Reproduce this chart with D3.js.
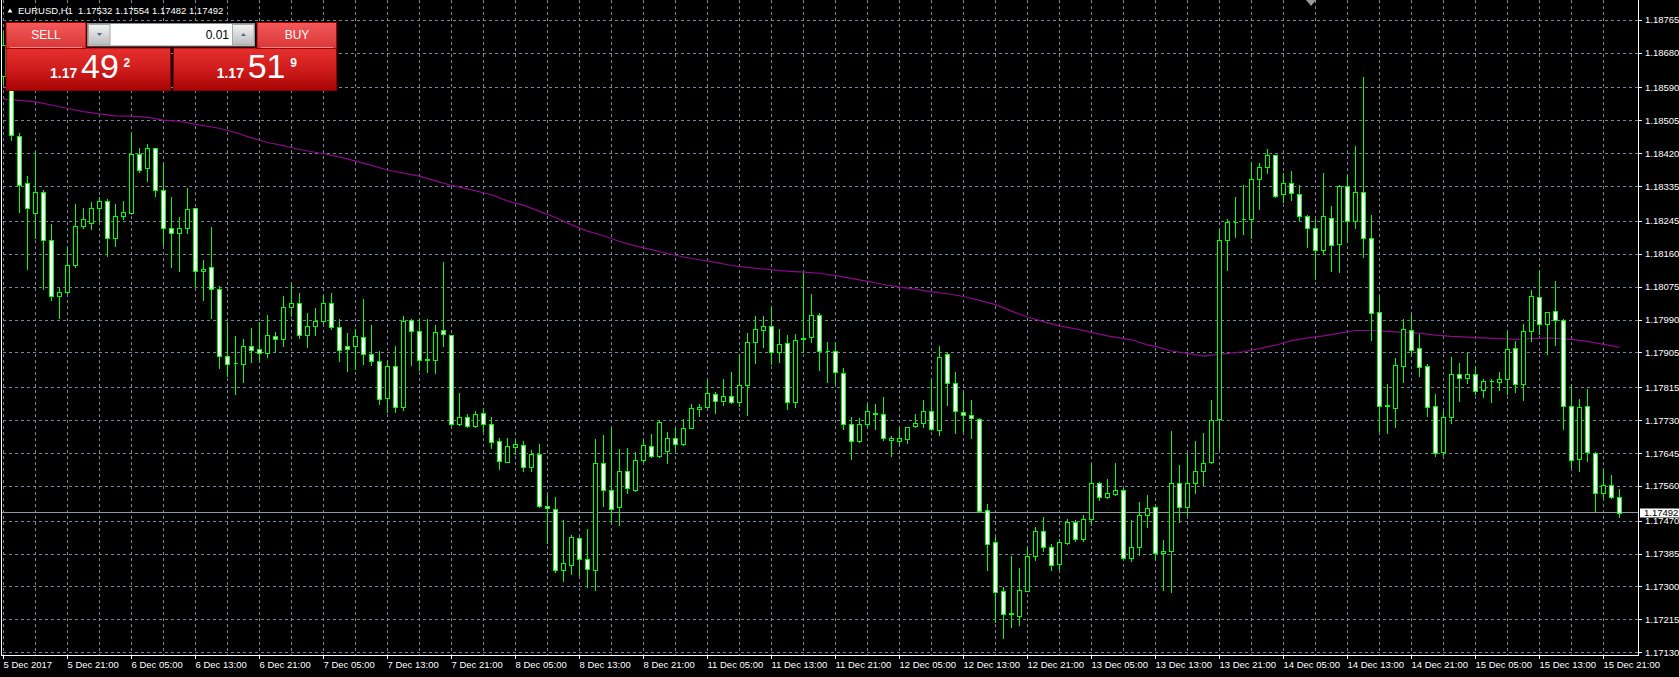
<!DOCTYPE html>
<html>
<head>
<meta charset="utf-8">
<script src="https://cdn.jsdelivr.net/npm/d3@7"></script>
<style>
  html,body{margin:0;padding:0;background:#000;overflow:hidden}
  svg{display:block}
  text{font-family:"Liberation Sans",Arial,sans-serif}
</style>
</head>
<body>
<svg id="chart" width="1679" height="677"></svg>
<script>
// ---------- DATA ----------
const symbol = "EURUSD,H1";
const headerValues = [1.17532, 1.17554, 1.17482, 1.17492];
const bidPrice = 1.17492;
const askPrice = 1.17519;
const lotSize = "0.01";

const openP = [
1.18621,1.18700,1.18466,1.18344,1.18268,1.18320,1.18197,1.18051,1.18063,1.18133,
1.18234,1.18242,1.18279,1.18299,1.18203,1.18258,1.18268,1.18420,1.18383,1.18434,
1.18327,1.18229,1.18216,1.18227,1.18279,1.18117,1.18126,1.18071,1.17896,1.17878,
1.17876,1.17924,1.17916,1.17905,1.17950,1.17941,1.18024,1.18035,1.17951,1.17975,
1.17988,1.18035,1.17973,1.17922,1.17922,1.17946,1.17903,1.17883,1.17788,1.17870,
1.17766,1.17991,1.17962,1.17889,1.17887,1.17964,1.17952,1.17721,1.17739,1.17716,
1.17749,1.17720,1.17677,1.17624,1.17661,1.17666,1.17611,1.17643,1.17510,1.17501,
1.17345,1.17358,1.17426,1.17371,1.17345,1.17620,1.17550,1.17506,1.17599,1.17551,
1.17629,1.17664,1.17638,1.17651,1.17684,1.17669,1.17711,1.17759,1.17765,1.17800,
1.17782,1.17794,1.17778,1.17822,1.17932,1.17965,1.17974,1.17908,1.17931,1.17777,
1.17943,1.17946,1.18003,1.17911,1.17910,1.17853,1.17720,1.17677,1.17721,1.17751,
1.17746,1.17680,1.17678,1.17682,1.17715,1.17724,1.17756,1.17705,1.17901,1.17827,
1.17752,1.17744,1.17735,1.17499,1.17416,1.17290,1.17233,1.17225,1.17290,1.17380,
1.17444,1.17402,1.17360,1.17413,1.17467,1.17423,1.17475,1.17570,1.17532,1.17540,
1.17550,1.17375,1.17404,1.17485,1.17506,1.17387,1.17394,1.17568,1.17507,1.17570,
1.17599,1.17622,1.17734,1.18198,1.18243,1.18250,1.18250,1.18355,1.18387,1.18416,
1.18315,1.18345,1.18317,1.18260,1.18229,1.18172,1.18255,1.18187,1.18336,1.18245,
1.18320,1.18201,1.18011,1.17770,1.17763,1.17872,1.17964,1.17917,1.17872,1.17767,
1.17648,1.17740,1.17851,1.17840,1.17851,1.17810,1.17832,1.17830,1.17837,1.17917,
1.17824,1.17962,1.18050,1.17981,1.18014,1.17989,1.17768,1.17630,1.17768,1.17646,
1.17542,1.17563,1.17532];

const highP = [
1.18732,1.18712,1.18473,1.18362,1.18424,1.18325,1.18238,1.18072,1.18177,1.18290,
1.18279,1.18295,1.18308,1.18303,1.18290,1.18299,1.18473,1.18435,1.18446,1.18436,
1.18396,1.18308,1.18257,1.18332,1.18281,1.18146,1.18230,1.18077,1.17985,1.17950,
1.17940,1.17969,1.17985,1.18003,1.17960,1.18052,1.18084,1.18060,1.18008,1.18021,
1.18051,1.18061,1.17992,1.17957,1.17966,1.18044,1.17977,1.17910,1.17883,1.17924,
1.18001,1.17992,1.17993,1.17993,1.17978,1.18139,1.17952,1.17801,1.17746,1.17756,
1.17760,1.17740,1.17685,1.17685,1.17680,1.17678,1.17655,1.17670,1.17539,1.17533,
1.17472,1.17434,1.17428,1.17449,1.17683,1.17693,1.17710,1.17657,1.17659,1.17648,
1.17680,1.17696,1.17732,1.17700,1.17712,1.17735,1.17773,1.17773,1.17836,1.17803,
1.17838,1.17855,1.17903,1.17957,1.18001,1.18001,1.18027,1.17967,1.17952,1.17953,
1.18111,1.18058,1.18008,1.17932,1.17934,1.17865,1.17740,1.17737,1.17773,1.17773,
1.17791,1.17691,1.17711,1.17713,1.17748,1.17784,1.17837,1.17922,1.17907,1.17855,
1.17805,1.17784,1.17737,1.17515,1.17430,1.17301,1.17380,1.17349,1.17404,1.17455,
1.17480,1.17411,1.17423,1.17475,1.17472,1.17486,1.17618,1.17572,1.17580,1.17621,
1.17556,1.17472,1.17520,1.17537,1.17508,1.17421,1.17703,1.17615,1.17645,1.17678,
1.17699,1.17784,1.18225,1.18250,1.18307,1.18340,1.18398,1.18397,1.18433,1.18418,
1.18369,1.18376,1.18340,1.18262,1.18252,1.18369,1.18286,1.18338,1.18364,1.18440,
1.18619,1.18262,1.18053,1.17825,1.17891,1.17993,1.18008,1.17955,1.17877,1.17798,
1.17756,1.17895,1.17879,1.17905,1.17870,1.17837,1.17838,1.17855,1.17965,1.17936,
1.17981,1.18067,1.18119,1.18012,1.18090,1.17993,1.17822,1.17786,1.17813,1.17648,
1.17602,1.17590,1.17554];

const lowP = [
1.18603,1.18455,1.18270,1.18121,1.18202,1.18070,1.18042,1.17996,1.18061,1.18127,
1.18229,1.18225,1.18246,1.18156,1.18181,1.18251,1.18264,1.18373,1.18349,1.18310,
1.18184,1.18127,1.18117,1.18216,1.18077,1.18042,1.17996,1.17866,1.17846,1.17799,
1.17829,1.17881,1.17887,1.17894,1.17909,1.17922,1.18001,1.17943,1.17920,1.17951,
1.17983,1.17966,1.17883,1.17859,1.17864,1.17876,1.17873,1.17774,1.17753,1.17753,
1.17758,1.17875,1.17860,1.17857,1.17853,1.17924,1.17718,1.17719,1.17713,1.17713,
1.17704,1.17658,1.17605,1.17623,1.17644,1.17600,1.17599,1.17506,1.17413,1.17339,
1.17316,1.17334,1.17331,1.17301,1.17292,1.17510,1.17469,1.17459,1.17542,1.17548,
1.17624,1.17636,1.17637,1.17620,1.17656,1.17666,1.17710,1.17743,1.17763,1.17751,
1.17770,1.17775,1.17768,1.17744,1.17879,1.17920,1.17877,1.17882,1.17760,1.17765,
1.17908,1.17934,1.17860,1.17830,1.17824,1.17708,1.17632,1.17674,1.17715,1.17708,
1.17680,1.17639,1.17670,1.17672,1.17713,1.17713,1.17705,1.17692,1.17770,1.17699,
1.17702,1.17684,1.17494,1.17345,1.17209,1.17168,1.17197,1.17202,1.17289,1.17370,
1.17392,1.17345,1.17347,1.17411,1.17418,1.17418,1.17461,1.17526,1.17529,1.17537,
1.17373,1.17368,1.17383,1.17456,1.17373,1.17292,1.17288,1.17467,1.17485,1.17542,
1.17563,1.17620,1.17656,1.18119,1.18205,1.18212,1.18203,1.18277,1.18370,1.18307,
1.18296,1.18301,1.18248,1.18179,1.18096,1.18160,1.18117,1.18114,1.18191,1.18229,
1.18153,1.17938,1.17702,1.17699,1.17713,1.17829,1.17898,1.17845,1.17741,1.17639,
1.17640,1.17724,1.17782,1.17827,1.17798,1.17792,1.17777,1.17808,1.17798,1.17805,
1.17784,1.17936,1.17955,1.17903,1.17925,1.17708,1.17610,1.17601,1.17626,1.17497,
1.17529,1.17529,1.17482];

const closeP = [
1.18701,1.18468,1.18340,1.18281,1.18320,1.18197,1.18051,1.18063,1.18133,1.18233,
1.18250,1.18279,1.18299,1.18203,1.18258,1.18269,1.18420,1.18379,1.18434,1.18327,
1.18227,1.18216,1.18227,1.18276,1.18117,1.18123,1.18071,1.17896,1.17877,1.17880,
1.17924,1.17912,1.17905,1.17952,1.17942,1.18023,1.18033,1.17951,1.17975,1.17988,
1.18035,1.17973,1.17913,1.17915,1.17948,1.17903,1.17884,1.17786,1.17870,1.17766,
1.17988,1.17962,1.17887,1.17887,1.17960,1.17953,1.17721,1.17739,1.17716,1.17746,
1.17721,1.17674,1.17625,1.17664,1.17669,1.17611,1.17643,1.17508,1.17504,1.17345,
1.17361,1.17430,1.17371,1.17346,1.17620,1.17550,1.17501,1.17599,1.17556,1.17627,
1.17666,1.17639,1.17727,1.17684,1.17670,1.17711,1.17763,1.17765,1.17801,1.17781,
1.17794,1.17779,1.17822,1.17934,1.17968,1.17974,1.17908,1.17929,1.17778,1.17939,
1.17942,1.18003,1.17911,1.17910,1.17855,1.17721,1.17678,1.17721,1.17755,1.17746,
1.17686,1.17686,1.17684,1.17713,1.17724,1.17756,1.17708,1.17895,1.17827,1.17754,
1.17744,1.17737,1.17497,1.17411,1.17288,1.17231,1.17231,1.17292,1.17380,1.17444,
1.17402,1.17358,1.17415,1.17468,1.17423,1.17475,1.17570,1.17532,1.17542,1.17550,
1.17375,1.17404,1.17485,1.17504,1.17387,1.17394,1.17568,1.17507,1.17570,1.17599,
1.17620,1.17732,1.18198,1.18243,1.18244,1.18251,1.18355,1.18387,1.18416,1.18312,
1.18345,1.18319,1.18260,1.18229,1.18172,1.18258,1.18185,1.18336,1.18245,1.18320,
1.18201,1.18007,1.17768,1.17768,1.17875,1.17968,1.17913,1.17869,1.17765,1.17646,
1.17740,1.17851,1.17840,1.17851,1.17807,1.17832,1.17833,1.17838,1.17915,1.17824,
1.17962,1.18053,1.17981,1.18010,1.17989,1.17768,1.17629,1.17765,1.17648,1.17544,
1.17563,1.17532,1.17492];

// moving average, read at these bar indices
const maIndex = [0,2,4,6,8,10,12,14,16,18,20,22,24,27,29,31,33,35,37,40,42,44,46,48,51,52,54,56,58,61,
63,65,67,69,71,73,75,77,79,81,83,85,87,89,91,93,95,97,100,102,104,106,108,110,112,114,116,118,120,122,
124,126,128,130,132,134,136,138,141,143,144,146,148,150,153,155,157,159,161,163,165,167,169,171,173,
175,177,179,181,183,185,187,189,191,193,196,198,200,202];
const maValue = [1.18561,1.18558,1.18554,1.18546,1.18537,1.18529,1.18523,1.18518,1.18517,1.18514,
1.18507,1.18504,1.18496,1.18486,1.18475,1.18461,1.18449,1.18441,1.18431,1.18420,1.18412,1.18401,
1.18390,1.18378,1.18366,1.18362,1.18350,1.18338,1.18329,1.18314,1.18298,1.18287,1.18271,1.18255,
1.18236,1.18220,1.18208,1.18193,1.18182,1.18172,1.18162,1.18153,1.18146,1.18139,1.18131,1.18126,
1.18122,1.18118,1.18114,1.18111,1.18105,1.18098,1.18090,1.18082,1.18075,1.18070,1.18063,1.18058,
1.18051,1.18041,1.18030,1.18013,1.17998,1.17986,1.17975,1.17967,1.17958,1.17949,1.17939,1.17926,
1.17922,1.17910,1.17904,1.17897,1.17904,1.17908,1.17916,1.17925,1.17937,1.17944,1.17949,1.17956,
1.17963,1.17963,1.17961,1.17958,1.17956,1.17951,1.17948,1.17946,1.17944,1.17942,1.17940,1.17942,
1.17944,1.17940,1.17935,1.17927,1.17920];

const priceTicks = [1.17130,1.17215,1.17300,1.17385,1.17470,1.17560,1.17645,1.17730,1.17815,1.17905,
1.17990,1.18075,1.18160,1.18245,1.18335,1.18420,1.18505,1.18590,1.18680,1.18765];

const timeLabels = ["5 Dec 2017","5 Dec 21:00","6 Dec 05:00","6 Dec 13:00","6 Dec 21:00","7 Dec 05:00",
"7 Dec 13:00","7 Dec 21:00","8 Dec 05:00","8 Dec 13:00","8 Dec 21:00","11 Dec 05:00","11 Dec 13:00",
"11 Dec 21:00","12 Dec 05:00","12 Dec 13:00","12 Dec 21:00","13 Dec 05:00","13 Dec 13:00","13 Dec 21:00",
"14 Dec 05:00","14 Dec 13:00","14 Dec 21:00","15 Dec 05:00","15 Dec 13:00","15 Dec 21:00"];
const timeLabelIndex = [0,8,16,24,32,40,48,56,64,72,80,88,96,104,112,120,128,136,144,152,160,168,176,184,192,200];
const gridIndex = [0,4,8,12,16,20,24,28,32,36,40,44,48,52,56,60,64,68,72,76,80,84,88,92,96,100,
104,108,112,116,120,124,128,132,136,140,144,148,152,156,160,164,168,172,176,180,184,188,192,196,200];

// ---------- CHART ----------
const W = 1679, H = 677;
const plotLeft = 2, plotRight = 1638, plotBottom = 655;
const bars = openP.map((o, i) => ({i, o, h: highP[i], l: lowP[i], c: closeP[i]}));

const x = d3.scaleLinear().domain([0, bars.length - 1]).range([3.5, 1619.5]);
const y = d3.scaleLinear().domain([1.17130, 1.18765]).range([652.7, 20.3]);

const svg = d3.select("#chart");
const defs = svg.append("defs");
defs.append("clipPath").attr("id", "plotClip").append("rect")
  .attr("x", plotLeft).attr("y", 0).attr("width", plotRight - plotLeft).attr("height", plotBottom);

function grad(id, stops) {
  const g = defs.append("linearGradient").attr("id", id).attr("x1", 0).attr("y1", 0).attr("x2", 0).attr("y2", 1);
  stops.forEach(([o, c]) => g.append("stop").attr("offset", o).attr("stop-color", c));
}
grad("gHead", [[0, "#f35a5a"], [1, "#d93636"]]);
grad("gPrice", [[0, "#e63030"], [0.5, "#d01c1c"], [1, "#a80404"]]);
grad("gArrow", [[0, "#f4f4f4"], [1, "#bcbcbc"]]);

svg.append("rect").attr("width", W).attr("height", H).attr("fill", "#000");

// horizontal grid
const gH = svg.append("g").attr("transform", `translate(${plotRight},0)`)
  .call(d3.axisLeft(y).tickValues(priceTicks).tickSize(plotRight - plotLeft).tickFormat("").offset(0));
gH.select(".domain").remove();
gH.selectAll(".tick line").attr("stroke", "#778899").attr("stroke-dasharray", "3,3")
  .attr("shape-rendering", "crispEdges");

// vertical grid
const gV = svg.append("g")
  .call(d3.axisBottom(x).tickValues(gridIndex).tickSize(plotBottom).tickFormat("").offset(0));
gV.select(".domain").remove();
gV.selectAll(".tick line").attr("stroke", "#778899").attr("stroke-dasharray", "3,3")
  .attr("shape-rendering", "crispEdges");

const plot = svg.append("g").attr("clip-path", "url(#plotClip)");

// moving average
const maLine = d3.line().x(d => x(d[0])).y(d => y(d[1]));
plot.append("path").datum(maIndex.map((d, k) => [d, maValue[k]]))
  .attr("d", maLine).attr("fill", "none").attr("stroke", "#8a0a8a").attr("stroke-width", 1.2);

// bid line
plot.append("line").attr("x1", plotLeft).attr("x2", plotRight)
  .attr("y1", Math.floor(y(bidPrice)) + 0.5).attr("y2", Math.floor(y(bidPrice)) + 0.5)
  .attr("stroke", "#8a97a6").attr("stroke-width", 1);

// candles
const snap = v => Math.round(v) + 0.5;
const cg = plot.selectAll("g.bar").data(bars).join("g").attr("class", "bar");
cg.append("line")
  .attr("x1", d => x(d.i)).attr("x2", d => x(d.i))
  .attr("y1", d => snap(y(d.h)) - 0.5).attr("y2", d => snap(y(d.l)) + 0.5)
  .attr("stroke", "#00ff00").attr("stroke-width", 1).attr("shape-rendering", "crispEdges");
cg.append("path")
  .attr("d", d => {
    const t = snap(y(Math.max(d.o, d.c))), b = snap(y(Math.min(d.o, d.c)));
    const x0 = x(d.i) - 2, x1 = x(d.i) + 2;
    return `M${x0},${t}H${x1}V${b}H${x0}Z`;
  })
  .attr("fill", d => d.c < d.o ? "#ffffff" : "#000000")
  .attr("stroke", "#00ff00").attr("stroke-width", 1).attr("shape-rendering", "crispEdges");

// frame
const frame = svg.append("g").attr("stroke", "#ffffff").attr("stroke-width", 1).attr("shape-rendering", "crispEdges");
frame.append("line").attr("x1", 1.5).attr("x2", 1.5).attr("y1", 0).attr("y2", plotBottom + 1);
frame.append("line").attr("x1", plotRight + 0.5).attr("x2", plotRight + 0.5).attr("y1", 0).attr("y2", plotBottom + 1);
frame.append("line").attr("x1", 1).attr("x2", plotRight + 1).attr("y1", plotBottom + 0.5).attr("y2", plotBottom + 0.5);

// price axis
const gY = svg.append("g").attr("transform", `translate(${plotRight + 1},0)`)
  .call(d3.axisRight(y).tickValues(priceTicks).tickSize(3).tickPadding(3).tickFormat(d3.format(".5f")).offset(0));
gY.select(".domain").remove();
gY.selectAll(".tick line").attr("stroke", "#ffffff").attr("shape-rendering", "crispEdges");
gY.selectAll(".tick text").attr("fill", "#ffffff").style("font-size", "9.5px")
  .style("font-family", '"Liberation Sans",Arial,sans-serif');

// bid price box
const by = y(bidPrice);
svg.append("rect").attr("x", 1640).attr("y", Math.round(by) - 4.5).attr("width", 39).attr("height", 9)
  .attr("fill", "#ffffff");
svg.append("text").attr("x", 1644).attr("y", by + 3.3).attr("fill", "#000").style("font-size", "9.5px")
  .text(d3.format(".5f")(bidPrice));

// time axis
const gX = svg.append("g").attr("transform", `translate(0,${plotBottom})`)
  .call(d3.axisBottom(x).tickValues(timeLabelIndex).tickSize(4).tickPadding(2)
    .tickFormat((d, k) => timeLabels[k]).offset(0));
gX.select(".domain").remove();
gX.selectAll(".tick line").attr("stroke", "#ffffff").attr("shape-rendering", "crispEdges");
gX.selectAll(".tick text").attr("fill", "#ffffff").attr("text-anchor", "start").attr("x", 0)
  .style("font-size", "9.5px").style("font-family", '"Liberation Sans",Arial,sans-serif');

// chart-shift marker
svg.append("path").attr("d", "M1306,0H1316L1311,6Z").attr("fill", "#9a9a9a");

// header
svg.append("path").attr("d", "M7.5,12.5L10,8.5L12.5,12.5Z").attr("fill", "#ffffff");
svg.append("text").attr("x", 18).attr("y", 14).attr("fill", "#fff").style("font-size", "9.5px").text(symbol);
svg.append("text").attr("x", 78).attr("y", 14).attr("fill", "#fff").style("font-size", "9.5px")
  .text(headerValues.map(d3.format(".5f")).join(" "));

// one-click trading panel
const panel = svg.append("g");
function priceParts(p) {
  const s = d3.format(".5f")(p);            // e.g. 1.17492
  return [s.slice(0, 4), s.slice(4, 6), s.slice(6)];
}
// price boxes
panel.append("rect").attr("x", 6).attr("y", 48).attr("width", 164.5).attr("height", 42.5)
  .attr("fill", "url(#gPrice)").attr("stroke", "#8c0000").attr("stroke-width", 1);
panel.append("rect").attr("x", 173.5).attr("y", 48).attr("width", 163).attr("height", 42.5)
  .attr("fill", "url(#gPrice)").attr("stroke", "#8c0000").attr("stroke-width", 1);
// header buttons
panel.append("rect").attr("x", 6).attr("y", 22.5).attr("width", 80).attr("height", 26)
  .attr("fill", "url(#gHead)").attr("stroke", "#a00000").attr("stroke-width", 1);
panel.append("rect").attr("x", 257).attr("y", 22.5).attr("width", 79.5).attr("height", 26)
  .attr("fill", "url(#gHead)").attr("stroke", "#a00000").attr("stroke-width", 1);
panel.append("line").attr("x1", 10).attr("x2", 82).attr("y1", 47.5).attr("y2", 47.5).attr("stroke", "#f48a8a");
panel.append("line").attr("x1", 261).attr("x2", 333).attr("y1", 47.5).attr("y2", 47.5).attr("stroke", "#f48a8a");
panel.append("text").attr("x", 46).attr("y", 39).attr("text-anchor", "middle").attr("fill", "#fff")
  .style("font-size", "12px").text("SELL");
panel.append("text").attr("x", 297).attr("y", 39).attr("text-anchor", "middle").attr("fill", "#fff")
  .style("font-size", "12px").text("BUY");
// lot box
panel.append("rect").attr("x", 87.5).attr("y", 23.5).attr("width", 167).attr("height", 22.5)
  .attr("fill", "#ffffff").attr("stroke", "#8a8a8a");
panel.append("rect").attr("x", 88.5).attr("y", 24.5).attr("width", 21.5).attr("height", 20.5)
  .attr("fill", "url(#gArrow)").attr("stroke", "#a8a8a8");
panel.append("rect").attr("x", 232.5).attr("y", 24.5).attr("width", 21.5).attr("height", 20.5)
  .attr("fill", "url(#gArrow)").attr("stroke", "#a8a8a8");
panel.append("path").attr("d", "M97,33H102L99.5,36Z").attr("fill", "#56648c");
panel.append("path").attr("d", "M241,36H246L243.5,33Z").attr("fill", "#56648c");
panel.append("text").attr("x", 229).attr("y", 38.5).attr("text-anchor", "end").attr("fill", "#000")
  .style("font-size", "12px").text(lotSize);
// prices
function drawPrice(p, x0) {
  const [a, b, c] = priceParts(p);
  panel.append("text").attr("x", x0).attr("y", 77.7).attr("fill", "#fff").style("font-size", "14px")
    .style("font-weight", "bold").text(a);
  panel.append("text").attr("x", x0 + 31).attr("y", 77.7).attr("fill", "#fff").style("font-size", "34px").text(b);
  panel.append("text").attr("x", x0 + 73.5).attr("y", 66.7).attr("fill", "#fff").style("font-size", "12px")
    .style("font-weight", "bold").text(c);
}
drawPrice(bidPrice, 50);
drawPrice(askPrice, 216.7);
</script>
</body>
</html>
